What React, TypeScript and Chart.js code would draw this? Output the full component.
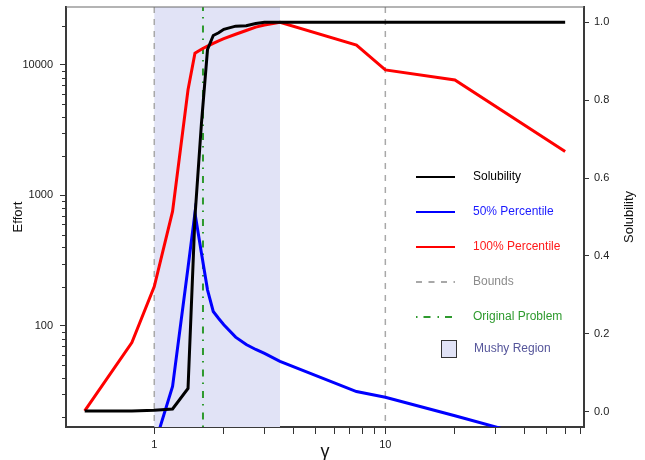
import React, { useEffect, useRef } from "react";
import { Chart, registerables } from "chart.js";

Chart.register(...registerables);

// ---- data ----
const gamma = [0.5, 0.8, 1.0, 1.2, 1.4, 1.5, 1.6, 1.7, 1.8, 1.9, 2.0, 2.25, 2.5, 2.75, 3.0, 3.5, 7.5, 10, 20, 60];
const solubility = [0.002, 0.002, 0.004, 0.007, 0.06, 0.5, 0.74, 0.93, 0.966, 0.973, 0.982, 0.99, 0.991, 0.997, 1.0, 1.0, 1.0, 1.0, 1.0, 1.0];
const effort50 = [null, null, 12, 34.3, 280, 733, 362, 189, 129, 114, 102, 82, 72, 66, 61.5, 53.5, 31.4, 28.4, 20.5, 12];
const effort100 = [22.3, 74.5, 200, 754, 6460, 12290, 13200, 13930, 14640, 15310, 15920, 17180, 18370, 19510, 20230, 21250, 14200, 9160, 7670, 2170];

const boundsX = [1, 10];
const originalX = [1.625];
const mushyRange = [1, 3.5];

const xTicks = [1, 2, 3, 4, 5, 6, 7, 8, 9, 10, 20, 30, 40, 50, 60, 70];
const xLabels = [1, 10];
const yMajor = [100, 1000, 10000];
const yMinor = [20, 30, 40, 50, 60, 70, 80, 90, 200, 300, 400, 500, 600, 700, 800, 900, 2000, 3000, 4000, 5000, 6000, 7000, 8000, 9000, 20000];
const y2Ticks = [0, 0.2, 0.4, 0.6, 0.8, 1.0];

const legendItems = [
  { label: "Solubility", color: "#000000", text: "#000000", kind: "line" },
  { label: "50% Percentile", color: "#0000ff", text: "#1a1aff", kind: "line" },
  { label: "100% Percentile", color: "#ff0000", text: "#ff1a1a", kind: "line" },
  { label: "Bounds", color: "#a8a8a8", text: "#8c8c8c", kind: "dash" },
  { label: "Original Problem", color: "#2e9a2e", text: "#2e9a2e", kind: "dotdash" },
  { label: "Mushy Region", color: "#e1e3f6", text: "#55559a", kind: "box" },
];

const FONT = "'Liberation Sans', Arial, Helvetica, sans-serif";

const overlay = {
  id: "overlay",
  beforeDatasetsDraw(chart: any) {
    const { ctx, chartArea, scales } = chart;
    const x = scales.x;
    ctx.save();
    const x0 = x.getPixelForValue(mushyRange[0]);
    const x1 = x.getPixelForValue(mushyRange[1]);
    ctx.fillStyle = "#e1e3f6";
    ctx.fillRect(x0, chartArea.top, x1 - x0, chartArea.bottom - chartArea.top);
    ctx.strokeStyle = "#a8a8a8";
    ctx.lineWidth = 1.5;
    ctx.setLineDash([6, 6]);
    boundsX.forEach((b) => {
      const px = x.getPixelForValue(b);
      ctx.beginPath();
      ctx.moveTo(px, chartArea.top);
      ctx.lineTo(px, chartArea.bottom);
      ctx.stroke();
    });
    ctx.strokeStyle = "#2e9a2e";
    ctx.lineWidth = 2;
    ctx.setLineDash([1.5, 6, 7, 7]);
    originalX.forEach((b) => {
      const px = x.getPixelForValue(b);
      ctx.beginPath();
      ctx.moveTo(px, chartArea.bottom);
      ctx.lineTo(px, chartArea.top);
      ctx.stroke();
    });
    ctx.restore();
  },
  afterDraw(chart: any) {
    const { ctx, chartArea, scales } = chart;
    ctx.save();
    ctx.strokeStyle = "#6a6a6a";
    ctx.lineWidth = 1.2;
    ctx.beginPath();
    ctx.moveTo(chartArea.left, chartArea.top);
    ctx.lineTo(chartArea.right, chartArea.top);
    ctx.stroke();
    ctx.strokeStyle = "#333";
    ctx.lineWidth = 1;
    yMinor.forEach((v) => {
      const py = Math.round(scales.y.getPixelForValue(v)) + 0.5;
      ctx.beginPath();
      ctx.moveTo(chartArea.left - 4, py);
      ctx.lineTo(chartArea.left, py);
      ctx.stroke();
    });
    ctx.fillStyle = "#111";
    ctx.font = `13px ${FONT}`;
    ctx.textAlign = "center";
    ctx.textBaseline = "middle";
    const midY = (chartArea.top + chartArea.bottom) / 2;
    ctx.save();
    ctx.translate(18, midY);
    ctx.rotate(-Math.PI / 2);
    ctx.fillText("Effort", 0, 0);
    ctx.restore();
    ctx.save();
    ctx.translate(629, midY);
    ctx.rotate(-Math.PI / 2);
    ctx.fillText("Solubility", 0, 0);
    ctx.restore();
    ctx.font = `18px ${FONT}`;
    ctx.fillText("γ", (chartArea.left + chartArea.right) / 2, 452);

    const lx0 = 416, lx1 = 455, tx = 473;
    const rows = [177, 212, 247, 282, 317, 349];
    ctx.font = `12px ${FONT}`;
    ctx.textAlign = "left";
    legendItems.forEach((it, i) => {
      const y = rows[i];
      if (it.kind === "box") {
        ctx.fillStyle = it.color;
        ctx.fillRect(441, y - 8.5, 15, 17);
        ctx.strokeStyle = "#333";
        ctx.lineWidth = 1;
        ctx.setLineDash([]);
        ctx.strokeRect(441.5, y - 8.5, 15, 17);
      } else {
        ctx.strokeStyle = it.color;
        ctx.lineWidth = 2;
        if (it.kind === "dash") ctx.setLineDash([6, 6.5]);
        else if (it.kind === "dotdash") ctx.setLineDash([1.5, 6, 7, 7]);
        else ctx.setLineDash([]);
        ctx.beginPath();
        ctx.moveTo(lx0, y);
        ctx.lineTo(lx1, y);
        ctx.stroke();
        ctx.setLineDash([]);
      }
      ctx.fillStyle = it.text;
      ctx.fillText(it.label, it.kind === "box" ? tx + 1 : tx, y);
    });
    ctx.restore();
  },
};

export default function App() {
  const ref = useRef<HTMLCanvasElement | null>(null);
  useEffect(() => {
    if (!ref.current) return;
    Chart.defaults.font.family = FONT;
    const mk = (vals: (number | null)[]) => gamma.map((g, i) => ({ x: g, y: vals[i] }));
    const fitV = (w: number) => (s: any) => { s.width = w; s.paddingTop = 0; s.paddingBottom = 0; };
    const chart = new Chart(ref.current, {
      type: "line",
      data: {
        datasets: [
          { label: "Solubility", data: mk(solubility), yAxisID: "y2", borderColor: "#000", borderWidth: 3, pointRadius: 0, tension: 0, clip: 0 } as any,
          { label: "50% Percentile", data: mk(effort50), yAxisID: "y", borderColor: "#0000ff", borderWidth: 3, pointRadius: 0, tension: 0, clip: 0, spanGaps: false } as any,
          { label: "100% Percentile", data: mk(effort100), yAxisID: "y", borderColor: "#ff0000", borderWidth: 3, pointRadius: 0, tension: 0, clip: 0 } as any,
        ],
      },
      options: {
        animation: false,
        responsive: true,
        maintainAspectRatio: false,
        layout: { padding: { top: 7, left: 0, right: 0, bottom: 0 } },
        plugins: { legend: { display: false }, tooltip: { enabled: false } },
        scales: {
          x: {
            type: "logarithmic",
            min: 0.415,
            max: 72.4,
            afterFit: (s: any) => { s.height = 33; s.paddingLeft = 0; s.paddingRight = 0; },
            afterBuildTicks: (s: any) => { s.ticks = xTicks.map((v) => ({ value: v })); },
            ticks: {
              autoSkip: false,
              maxRotation: 0,
              color: "#222",
              font: { size: 11 },
              padding: 4,
              callback: (v: any) => (xLabels.includes(Number(v)) ? String(v) : ""),
            },
            grid: { drawOnChartArea: false, drawTicks: true, tickLength: 7, tickColor: "#333", tickWidth: 1 },
            border: { display: true, color: "#3a3a3a", width: 2 },
          },
          y: {
            type: "logarithmic",
            position: "left",
            min: 16.8,
            max: 27800,
            afterFit: fitV(66),
            afterBuildTicks: (s: any) => { s.ticks = yMajor.map((v) => ({ value: v })); },
            ticks: { autoSkip: false, color: "#222", font: { size: 11 }, padding: 7, callback: (v: any) => String(v) },
            grid: { drawOnChartArea: false, drawTicks: true, tickLength: 6, tickColor: "#333", tickWidth: 1 },
            border: { display: true, color: "#3a3a3a", width: 2 },
          },
          y2: {
            type: "linear",
            position: "right",
            min: -0.0392,
            max: 1.0392,
            afterFit: fitV(61),
            afterBuildTicks: (s: any) => { s.ticks = y2Ticks.map((v) => ({ value: v })); },
            ticks: { autoSkip: false, color: "#222", font: { size: 11 }, padding: 5, callback: (v: any) => Number(v).toFixed(1) },
            grid: { drawOnChartArea: false, drawTicks: true, tickLength: 5, tickColor: "#333", tickWidth: 1 },
            border: { display: true, color: "#3a3a3a", width: 2 },
          },
        },
      },
      plugins: [overlay],
    });
    return () => chart.destroy();
  }, []);
  return (
    <div style={{ position: "fixed", left: 0, top: 0, width: 645, height: 460, background: "#fff" }}>
      <canvas ref={ref} />
    </div>
  );
}
